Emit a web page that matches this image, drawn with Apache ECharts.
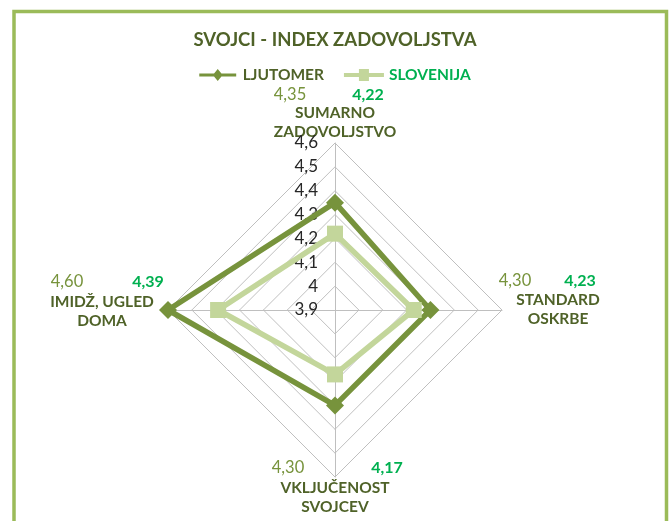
<!DOCTYPE html>
<html>
<head>
<meta charset="utf-8">
<script src="https://cdn.jsdelivr.net/npm/echarts@6/dist/echarts.min.js"></script>
<style>
  html, body { margin: 0; padding: 0; background: #fff; }
  #chart { width: 670px; height: 521px; }
</style>
</head>
<body>
<div id="chart"></div>
<script>
// data: top, left, bottom, right (radar goes counter-clockwise)
var categories = ['SUMARNO\nZADOVOLJSTVO', 'IMIDŽ, UGLED\nDOMA', 'VKLJUČENOST\nSVOJCEV', 'STANDARD\nOSKRBE'];
var ljutomer = [4.35, 4.60, 4.30, 4.30];
var slovenija = [4.22, 4.39, 4.17, 4.23];
var axisMin = 3.9;
var axisMax = 4.6;
var axisStep = 0.1;

var dark = '#4F6228';
var olive = '#77933C';
var light = '#C3D69B';
var green = '#00B050';
var font = 'Lato, "Open Sans", sans-serif';

function fmt(v, d) {
  var s = d == null ? String(parseFloat(v.toFixed(1))) : v.toFixed(d);
  return s.replace('.', ',');
}

var myechart = echarts.init(document.getElementById('chart'));

var indicator = categories.map(function (c, i) {
  var ind = { name: c, min: axisMin, max: axisMax };
  if (i === 0) {
    ind.axisLabel = {
      show: true,
      color: '#262626',
      fontSize: 17,
      fontFamily: font,
      margin: 17,
      formatter: function (v) { return fmt(v); }
    };
  }
  return ind;
});

// label blocks around the radar: [x of name, y of first name line, x of ljutomer value, x of slovenija value, y of values]
var labelPos = [
  [335, 113, 290, 368, 95],
  [102, 302, 67, 148, 282],
  [335, 488, 288, 387, 468],
  [558, 300, 515, 580, 281]
];

var graphics = [{
  type: 'rect',
  shape: { x: 14, y: 11.5, width: 652.5, height: 530 },
  style: { fill: 'none', stroke: '#9BBB59', lineWidth: 3.5 },
  silent: true
}];
categories.forEach(function (c, i) {
  var p = labelPos[i];
  c.split('\n').forEach(function (line, k) {
    graphics.push({
      type: 'text', x: p[0], y: p[1] + k * 19,
      style: { text: line, fill: dark, font: 'bold 15.5px ' + font, textAlign: 'center', textVerticalAlign: 'middle' }
    });
  });
  graphics.push({
    type: 'text', x: p[2], y: p[4],
    style: { text: fmt(ljutomer[i], 2), fill: olive, font: '16.5px ' + font, textAlign: 'center', textVerticalAlign: 'middle' }
  });
  graphics.push({
    type: 'text', x: p[3], y: p[4],
    style: { text: fmt(slovenija[i], 2), fill: green, font: 'bold 16px ' + font, textAlign: 'center', textVerticalAlign: 'middle' }
  });
});

var option = {
  animation: false,
  title: {
    text: 'SVOJCI - INDEX ZADOVOLJSTVA',
    left: 'center',
    top: 26,
    textStyle: { color: dark, fontSize: 18.5, fontWeight: 'bold', fontFamily: font }
  },
  legend: {
    top: 62,
    left: 'center',
    itemWidth: 40,
    itemHeight: 12,
    itemGap: 20,
    textStyle: { fontSize: 15.5, fontWeight: 'bold', fontFamily: font },
    data: [
      { name: 'LJUTOMER', icon: 'path://M0,5 L16,5 L20,0 L24,5 L40,5 L40,8 L24,8 L20,13 L16,8 L0,8 Z', itemStyle: { color: olive }, textStyle: { color: dark } },
      { name: 'SLOVENIJA', icon: 'path://M0,4 L15,4 L15,0 L25,0 L25,4 L40,4 L40,8 L25,8 L25,12 L15,12 L15,8 L0,8 Z', itemStyle: { color: light }, textStyle: { color: green } }
    ]
  },
  radar: {
    center: [335, 310],
    radius: 167,
    startAngle: 90,
    shape: 'polygon',
    splitNumber: Math.round((axisMax - axisMin) / axisStep),
    indicator: indicator,
    axisName: { show: false },
    axisLine: { lineStyle: { color: '#BFBFBF', width: 1 } },
    splitLine: { lineStyle: { color: '#BFBFBF', width: 1 } },
    splitArea: { show: false },
    axisTick: { show: false },
    axisLabel: { show: false }
  },
  series: [
    {
      name: 'SLOVENIJA',
      type: 'radar',
      symbol: 'rect',
      symbolSize: 16,
      lineStyle: { color: light, width: 5.5 },
      itemStyle: { color: light },
      data: [{ name: 'SLOVENIJA', value: slovenija }]
    },
    {
      name: 'LJUTOMER',
      type: 'radar',
      symbol: 'diamond',
      symbolSize: 18,
      lineStyle: { color: olive, width: 5.5 },
      itemStyle: { color: olive },
      data: [{ name: 'LJUTOMER', value: ljutomer }]
    }
  ],
  graphic: graphics
};

myechart.setOption(option);
</script>
</body>
</html>
